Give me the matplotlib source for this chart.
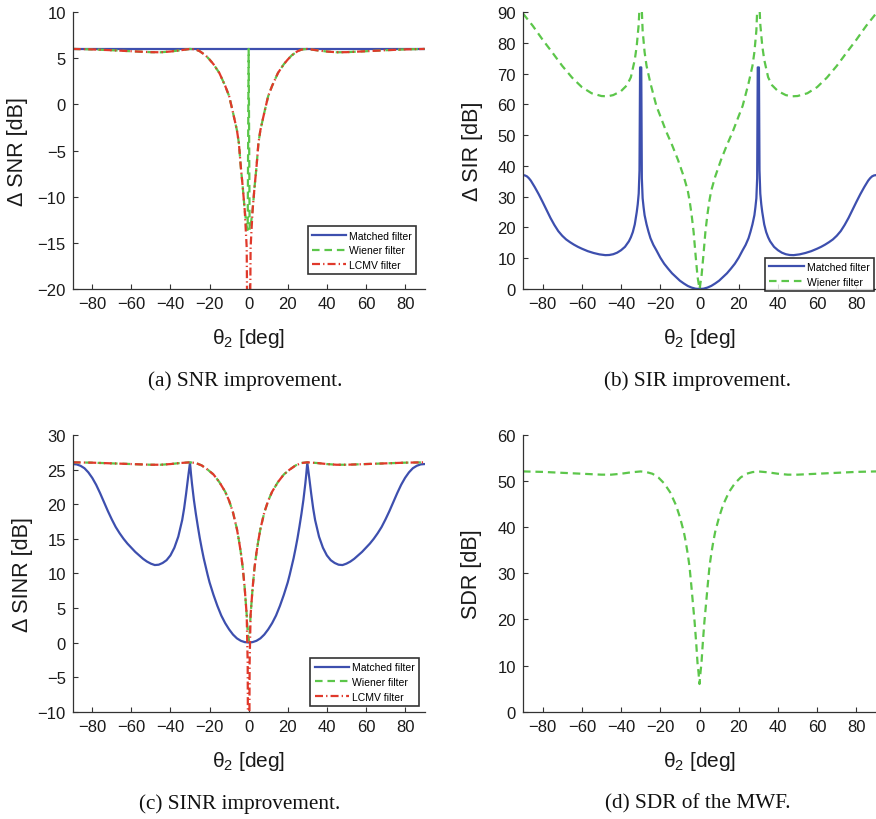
import matplotlib
matplotlib.use("Agg")
import matplotlib.pyplot as plt

plt.rcParams['font.family'] = ['Liberation Sans', 'DejaVu Sans']
plt.rcParams['mathtext.fontset'] = 'custom'
plt.rcParams['mathtext.rm'] = 'Liberation Sans'
plt.rcParams['mathtext.it'] = 'Liberation Sans:italic'

# ---------------- data ----------------
# (a) SNR improvement
snr_mf_x = [-90, -60, -30, 0, 30, 60, 90]
snr_mf_y = [6.0, 6.0, 6.0, 6.0, 6.0, 6.0, 6.0]

snr_x = [-90, -80, -70, -60, -50, -45, -40, -35, -30, -27, -25, -22, -20, -18, -15, -12, -10,
         -8, -6, -5, -4, -3, -2, -1, -0.5, 0, 0.5, 1, 2, 3, 4, 5, 6, 8, 10, 12, 15, 18, 20,
         22, 25, 27, 30, 35, 40, 45, 50, 60, 70, 80, 90]
snr_wiener = [6.0, 5.95, 5.86, 5.75, 5.65, 5.64, 5.72, 5.85, 6.0, 5.93, 5.75, 5.3, 4.85, 4.35,
              3.4, 2.0, 0.9, -0.9, -2.8, -4.2, -6.8, -9.0, -11.5, -13.2, -13.6, 6.0, -13.6,
              -13.2, -11.5, -9.0, -6.8, -4.2, -2.8, -0.9, 0.9, 2.0, 3.4, 4.35, 4.85, 5.3, 5.75,
              5.93, 6.0, 5.85, 5.72, 5.64, 5.65, 5.75, 5.86, 5.95, 6.0]
snr_lcmv = [6.0, 5.95, 5.86, 5.75, 5.65, 5.64, 5.72, 5.85, 6.0, 5.93, 5.75, 5.3, 4.85, 4.35,
            3.4, 2.0, 0.9, -0.9, -2.8, -4.2, -6.8, -9.0, -11.5, -15.5, -30.0, -80.0, -30.0,
            -15.5, -11.5, -9.0, -6.8, -4.2, -2.8, -0.9, 0.9, 2.0, 3.4, 4.35, 4.85, 5.3, 5.75,
            5.93, 6.0, 5.85, 5.72, 5.64, 5.65, 5.75, 5.86, 5.95, 6.0]

# (b) SIR improvement
sir_mf_x = [-90, -89, -88, -87, -86, -84, -82, -80, -78, -76, -74, -72, -70, -68, -66, -64,
            -62, -60, -57, -54, -51, -48, -46, -44, -42, -40, -38, -36, -35, -34, -33, -32,
            -31.5, -31, -30.6, -30.3, -29.7, -29.4, -29, -28.5, -28, -27, -26, -25, -23.5,
            -22, -20, -18, -16, -14, -12, -10, -8, -6, -4, -2, 0,
            2, 4, 6, 8, 10, 12, 14, 16, 18, 20, 22, 23.5, 25, 26, 27, 28, 28.5, 29, 29.4,
            29.7, 30.3, 30.6, 31, 31.5, 32, 33, 34, 35, 36, 38, 40, 42, 44, 46, 48, 51, 54,
            57, 60, 62, 64, 66, 68, 70, 72, 74, 76, 78, 80, 82, 84, 86, 87, 88, 89, 90]
sir_mf_y = [37.0, 36.9, 36.6, 36.0, 35.2, 33.1, 30.8, 28.3, 25.7, 23.1, 20.8, 18.8, 17.3,
            16.1, 15.2, 14.4, 13.7, 13.1, 12.3, 11.7, 11.25, 11.0, 11.05, 11.3, 11.8, 12.6,
            13.7, 15.5, 16.8, 18.5, 21.0, 25.0, 27.5, 31.0, 38.5, 72.0, 72.0, 36.0, 29.5,
            26.5, 24.0, 21.0, 18.6, 16.5, 14.3, 12.6, 10.2, 8.2, 6.6, 5.1, 3.9, 2.7, 1.8,
            1.0, 0.45, 0.1, 0.0,
            0.1, 0.45, 1.0, 1.8, 2.7, 3.9, 5.1, 6.6, 8.2, 10.2, 12.6, 14.3, 16.5, 18.6,
            21.0, 24.0, 26.5, 29.5, 36.0, 72.0, 72.0, 38.5, 31.0, 27.5, 25.0, 21.0, 18.5,
            16.8, 15.5, 13.7, 12.6, 11.8, 11.3, 11.05, 11.0, 11.25, 11.7, 12.3, 13.1, 13.7,
            14.4, 15.2, 16.1, 17.3, 18.8, 20.8, 23.1, 25.7, 28.3, 30.8, 33.1, 35.2, 36.0,
            36.6, 36.9, 37.0]

sir_w_x = [-90, -85, -80, -75, -70, -65, -60, -55, -50, -47, -44, -40, -37, -35, -33, -32,
           -31, -30, -29, -28, -27, -25, -22, -20, -17, -14, -11, -8, -6, -5, -4, -3, -2,
           -1, 0, 1, 2, 3, 4, 5, 6, 8, 11, 14, 17, 20, 22, 25, 27, 28, 29, 30, 31, 32, 33,
           35, 37, 40, 44, 47, 50, 55, 60, 65, 70, 75, 80, 85, 90]
sir_w_y = [89.5, 85.5, 81.0, 76.8, 72.5, 68.7, 65.6, 63.6, 62.7, 62.6, 63.0, 64.3, 66.2,
           68.8, 74.5, 79.0, 86.0, 100.0, 84.0, 77.0, 72.5, 66.8, 59.5, 56.2, 51.2, 46.8,
           42.0, 36.5, 32.0, 28.5, 24.0, 18.5, 11.0, 4.0, 0.0, 4.0, 11.0, 18.5, 24.0, 28.5,
           32.0, 36.5, 42.0, 46.8, 51.2, 56.2, 59.5, 66.8, 72.5, 77.0, 84.0, 100.0, 86.0,
           79.0, 74.5, 68.8, 66.2, 64.3, 63.0, 62.6, 62.7, 63.6, 65.6, 68.7, 72.5, 76.8,
           81.0, 85.5, 89.5]

# (c) SINR improvement
sinr_mf_x = [-90, -88, -86, -84, -82, -80, -78, -76, -74, -72, -70, -68, -66, -64, -62, -60,
             -58, -56, -54, -52, -50, -48, -46, -44, -42, -40, -38, -36, -34, -33, -32, -31,
             -30, -29.5, -29, -28, -27, -26, -25, -24, -23, -22, -21, -20, -18, -16, -14,
             -12, -10, -8, -6, -4, -2, 0,
             2, 4, 6, 8, 10, 12, 14, 16, 18, 20, 21, 22, 23, 24, 25, 26, 27, 28, 29, 29.5,
             30, 31, 32, 33, 34, 36, 38, 40, 42, 44, 46, 48, 50, 52, 54, 56, 58, 60, 62, 64,
             66, 68, 70, 72, 74, 76, 78, 80, 82, 84, 86, 88, 90]
sinr_mf_y = [25.8, 25.75, 25.55, 25.2, 24.6, 23.8, 22.8, 21.6, 20.3, 19.0, 17.8, 16.7, 15.8,
             15.0, 14.3, 13.7, 13.1, 12.6, 12.1, 11.7, 11.4, 11.2, 11.25, 11.5, 11.9, 12.6,
             13.7, 15.3, 17.7, 19.4, 21.5, 23.8, 26.0, 24.4, 23.0, 20.6, 18.6, 16.8, 15.1,
             13.6, 12.2, 11.0, 9.8, 8.7, 6.9, 5.3, 3.9, 2.8, 1.9, 1.15, 0.6, 0.25, 0.06, 0.0,
             0.06, 0.25, 0.6, 1.15, 1.9, 2.8, 3.9, 5.3, 6.9, 8.7, 9.8, 11.0, 12.2, 13.6,
             15.1, 16.8, 18.6, 20.6, 23.0, 24.4, 26.0, 23.8, 21.5, 19.4, 17.7, 15.3, 13.7,
             12.6, 11.9, 11.5, 11.25, 11.2, 11.4, 11.7, 12.1, 12.6, 13.1, 13.7, 14.3, 15.0,
             15.8, 16.7, 17.8, 19.0, 20.3, 21.6, 22.8, 23.8, 24.6, 25.2, 25.55, 25.75, 25.8]

sinr_x = [-90, -80, -70, -60, -50, -45, -40, -35, -30, -27, -24, -21, -18, -15, -12, -10,
          -8, -6, -5, -4, -3, -2, -1, -0.5, 0, 0.5, 1, 2, 3, 4, 5, 6, 8, 10, 12, 15, 18, 21,
          24, 27, 30, 35, 40, 45, 50, 60, 70, 80, 90]
sinr_wiener = [26.05, 26.0, 25.9, 25.8, 25.7, 25.7, 25.8, 25.95, 26.05, 25.95, 25.6, 25.0,
               24.3, 23.2, 21.8, 20.5, 18.8, 16.4, 14.8, 13.0, 10.8, 7.8, 4.0, 1.5, 0.3,
               1.5, 4.0, 7.8, 10.8, 13.0, 14.8, 16.4, 18.8, 20.5, 21.8, 23.2, 24.3, 25.0,
               25.6, 25.95, 26.05, 25.95, 25.8, 25.7, 25.7, 25.8, 25.9, 26.0, 26.05]
sinr_lcmv = [26.05, 26.0, 25.9, 25.8, 25.7, 25.7, 25.8, 25.95, 26.05, 25.95, 25.6, 25.0,
             24.3, 23.2, 21.8, 20.5, 18.8, 16.4, 14.8, 13.0, 10.8, 7.8, 4.0, -3.0, -40.0,
             -3.0, 4.0, 7.8, 10.8, 13.0, 14.8, 16.4, 18.8, 20.5, 21.8, 23.2, 24.3, 25.0,
             25.6, 25.95, 26.05, 25.95, 25.8, 25.7, 25.7, 25.8, 25.9, 26.0, 26.05]

# (d) SDR of the MWF
sdr_x = [-90, -80, -70, -60, -55, -50, -45, -40, -35, -30, -27, -24, -21, -18, -15, -12,
         -10, -8, -7, -6, -5.1, -4.2, -3.4, -2.5, -1.7, -1, -0.5, 0, 0.5, 1, 1.7, 2.5, 3.4,
         4.2, 5.1, 6, 7, 8, 10, 12, 15, 18, 21, 24, 27, 30, 35, 40, 45, 50, 55, 60, 70, 80, 90]
sdr_y = [52.1, 52.0, 51.8, 51.6, 51.5, 51.4, 51.4, 51.6, 51.9, 52.1, 51.95, 51.6, 50.8,
         49.5, 47.6, 44.8, 42.2, 39.0, 36.8, 34.2, 31.5, 27.5, 23.7, 19.5, 15.0, 10.5, 8.5,
         6.0, 8.5, 10.5, 15.0, 19.5, 23.7, 27.5, 31.5, 34.2, 36.8, 39.0, 42.2, 44.8, 47.6,
         49.5, 50.8, 51.6, 51.95, 52.1, 51.9, 51.6, 51.4, 51.4, 51.5, 51.6, 51.8, 52.0, 52.1]

labels = ['Matched filter', 'Wiener filter', 'LCMV filter']
captions = ['(a) SNR improvement.', '(b) SIR improvement.',
            '(c) SINR improvement.', '(d) SDR of the MWF.']

# ---------------- style ----------------
C_BLUE = '#3d4fae'
C_GREEN = '#5cc64a'
C_RED = '#e0392b'
W, H = 876, 820

fig = plt.figure(figsize=(W / 100, H / 100), dpi=100)


def make_ax(left, right, top, bottom):
    return fig.add_axes([left / W, 1 - bottom / H, (right - left) / W, (bottom - top) / H])


def style(ax, ylim, yticks, ylabel, ylab_x):
    ax.set_xlim(-90, 90)
    ax.set_ylim(*ylim)
    ax.set_xticks(range(-80, 81, 20))
    ax.set_yticks(yticks)
    for s in ('top', 'right'):
        ax.spines[s].set_visible(False)
    for s in ('left', 'bottom'):
        ax.spines[s].set_color('#333333')
        ax.spines[s].set_linewidth(0.9)
    ax.tick_params(direction='in', length=3.5, width=0.8, colors='#333333',
                   labelsize=12, labelcolor='#1a1a1a', pad=5)
    ax.set_xlabel(r'θ$_\mathregular{2}$ [deg]', fontsize=15, color='#1a1a1a')
    ax.xaxis.set_label_coords(0.5, -0.133)
    ax.set_ylabel(ylabel, fontsize=15.5, color='#1a1a1a')
    ax.yaxis.set_label_coords(ylab_x, 0.5)


def legend(ax, handles, anchor):
    leg = ax.legend(handles=handles, labels=[h.get_label() for h in handles],
                    loc='lower right', bbox_to_anchor=anchor, borderaxespad=0,
                    fontsize=7.5, frameon=True, fancybox=False, edgecolor='black',
                    handlelength=3.3, handletextpad=0.3, labelspacing=0.45,
                    borderpad=0.4)
    leg.get_frame().set_linewidth(1.2)
    leg.set_zorder(10)


dash_g = (3.4, 2.2)
dash_r = (3.6, 1.4, 0.6, 1.4)
LW = 1.6

# (a)
ax = make_ax(72.7, 424.6, 13, 290)
l1, = ax.plot(snr_mf_x, snr_mf_y, color=C_BLUE, lw=LW, label=labels[0])
l2, = ax.plot(snr_x, snr_wiener, color=C_GREEN, lw=LW, dashes=dash_g, label=labels[1])
l3, = ax.plot(snr_x, snr_lcmv, color=C_RED, lw=LW, dashes=dash_r, label=labels[2])
style(ax, (-20, 10), range(-20, 11, 5), 'Δ SNR [dB]', -0.127)
legend(ax, [l1, l2, l3], (0.976, 0.054))

# (b)
ax = make_ax(523, 876, 13, 290)
l1, = ax.plot(sir_mf_x, sir_mf_y, color=C_BLUE, lw=LW, label=labels[0])
l2, = ax.plot(sir_w_x, sir_w_y, color=C_GREEN, lw=LW, dashes=dash_g, label=labels[1])
style(ax, (0, 90), range(0, 91, 10), 'Δ SIR [dB]', -0.113)
legend(ax, [l1, l2], (0.994, -0.007))

# (c)
ax = make_ax(72.7, 424.6, 436, 712.7)
l1, = ax.plot(sinr_mf_x, sinr_mf_y, color=C_BLUE, lw=LW, label=labels[0])
l2, = ax.plot(sinr_x, sinr_wiener, color=C_GREEN, lw=LW, dashes=dash_g, label=labels[1])
l3, = ax.plot(sinr_x, sinr_lcmv, color=C_RED, lw=LW, dashes=dash_r, label=labels[2])
style(ax, (-10, 30), range(-10, 31, 5), 'Δ SINR [dB]', -0.113)
legend(ax, [l1, l2, l3], (0.984, 0.021))

# (d)
ax = make_ax(523, 876, 436, 712.7)
ax.plot(sdr_x, sdr_y, color=C_GREEN, lw=LW, dashes=dash_g)
style(ax, (0, 60), range(0, 61, 10), 'SDR [dB]', -0.116)

# captions
cap_pos = [(245, 381), (698, 381), (240, 804), (698, 804)]
for (cx, cy), txt in zip(cap_pos, captions):
    fig.text(cx / W, 1 - cy / H, txt, ha='center', va='center',
             fontsize=15.3, family='Liberation Serif', color='#111111')

fig.savefig('out.png', dpi=100)
